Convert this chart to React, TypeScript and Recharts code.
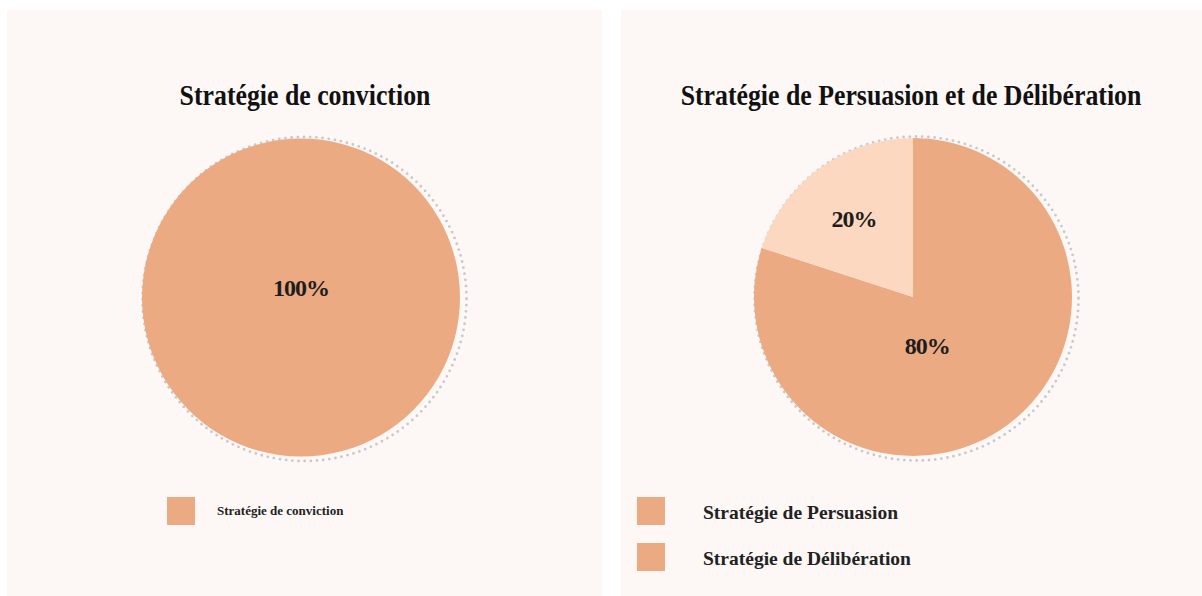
import { Cell, Pie, PieChart } from "recharts";

// values
const convictionCategories = ["Stratégie de conviction"];
const convictionValues = [100];

const mixCategories = ["Stratégie de Persuasion", "Stratégie de Délibération"];
const mixValues = [80, 20];

const panelTitles = ["Stratégie de conviction", "Stratégie de Persuasion et de Délibération"];

const PEACH = "#ECAA82";
const PEACH_LIGHT = "#FDD8C0";
const PANEL_BG = "#FDF8F6";
const INK = "#1d1d1d";
const DOTS = "#c9c8cc";
const SERIF = '"Liberation Serif", "Times New Roman", serif';

const PANEL_W = 595;
const PANEL_H = 600;
const RADIUS = 159;

function toRows(categories: string[], values: number[]) {
  return categories.map((name, i) => ({ name, value: values[i] }));
}

function renderPercent(props: any) {
  const { cx, cy, midAngle, outerRadius, percent } = props;
  let x = cx;
  let y = cy - 9.5;
  if (percent < 0.999) {
    const rad = (-midAngle * Math.PI) / 180;
    if (percent < 0.5) {
      x = cx + outerRadius * 0.63 * Math.cos(rad);
      y = cy + outerRadius * 0.61 * Math.sin(rad);
    } else {
      x = cx + outerRadius * 0.09;
      y = cy + outerRadius * 0.31;
    }
  }
  return (
    <text
      x={x}
      y={y}
      textAnchor="middle"
      dominantBaseline="central"
      fill={INK}
      style={{ fontFamily: SERIF, fontWeight: 700, fontSize: 24, letterSpacing: -1 }}
    >
      {Math.round(percent * 100)}%
    </text>
  );
}

interface PanelProps {
  left: number;
  title: string;
  titleCx: number;
  pieCx: number;
  pieCy: number;
  categories: string[];
  values: number[];
  fills: string[];
  legend: { left: number; top: number; textLeft: number; fontSize: number; gap: number };
}

function Panel({ left, title, titleCx, pieCx, pieCy, categories, values, fills, legend }: PanelProps) {
  const rows = toRows(categories, values);
  return (
    <div
      style={{
        position: "absolute",
        left,
        top: 10,
        width: PANEL_W,
        height: PANEL_H,
        background: PANEL_BG,
      }}
    >
      <div
        style={{
          position: "absolute",
          left: titleCx - 400,
          top: 70,
          width: 800,
          textAlign: "center",
          fontFamily: SERIF,
          fontWeight: 700,
          fontSize: 30,
          lineHeight: "30px",
          color: "#111",
          transform: "scaleX(0.86)",
          transformOrigin: "center",
          whiteSpace: "nowrap",
        }}
      >
        {title}
      </div>

      {/* dotted ring sitting slightly offset behind the pie */}
      <svg
        width={PANEL_W}
        height={PANEL_H}
        style={{ position: "absolute", left: 0, top: 0 }}
      >
        <circle
          cx={pieCx + 3.5}
          cy={pieCy + 1.5}
          r={RADIUS + 3}
          fill="none"
          stroke={DOTS}
          strokeWidth={2.8}
          strokeDasharray="0 6.2"
          strokeLinecap="round"
        />
      </svg>

      <div style={{ position: "absolute", left: 0, top: 0 }}>
        <PieChart width={PANEL_W} height={PANEL_H} margin={{ top: 0, right: 0, bottom: 0, left: 0 }}>
          <Pie
            data={rows}
            dataKey="value"
            nameKey="name"
            cx={pieCx}
            cy={pieCy}
            outerRadius={RADIUS}
            startAngle={90}
            endAngle={-270}
            stroke="none"
            labelLine={false}
            label={renderPercent}
            isAnimationActive={false}
          >
            {rows.map((r, i) => (
              <Cell key={r.name} fill={fills[i]} />
            ))}
          </Pie>
        </PieChart>
      </div>

      {categories.map((name, i) => (
        <div key={name}>
          <div
            style={{
              position: "absolute",
              left: legend.left,
              top: legend.top + i * legend.gap,
              width: 28,
              height: 28,
              background: PEACH,
            }}
          />
          <div
            style={{
              position: "absolute",
              left: legend.textLeft,
              top: legend.top + i * legend.gap + (legend.fontSize > 15 ? 2 : 0),
              height: 28,
              lineHeight: "28px",
              fontFamily: SERIF,
              fontWeight: 700,
              fontSize: legend.fontSize,
              color: "#222",
              whiteSpace: "nowrap",
            }}
          >
            {name}
          </div>
        </div>
      ))}
    </div>
  );
}

export default function App() {
  return (
    <div
      style={{
        position: "absolute",
        left: 0,
        top: 0,
        width: 1202,
        height: 596,
        overflow: "hidden",
        background: "#ffffff",
      }}
    >
      <Panel
        left={7}
        title={panelTitles[0]}
        titleCx={298}
        pieCx={294}
        pieCy={287.5}
        categories={convictionCategories}
        values={convictionValues}
        fills={[PEACH]}
        legend={{ left: 160, top: 487, textLeft: 210, fontSize: 13, gap: 46 }}
      />
      <Panel
        left={621}
        title={panelTitles[1]}
        titleCx={290}
        pieCx={292}
        pieCy={287}
        categories={mixCategories}
        values={mixValues}
        fills={[PEACH, PEACH_LIGHT]}
        legend={{ left: 16, top: 487, textLeft: 82, fontSize: 19.5, gap: 46 }}
      />
    </div>
  );
}
